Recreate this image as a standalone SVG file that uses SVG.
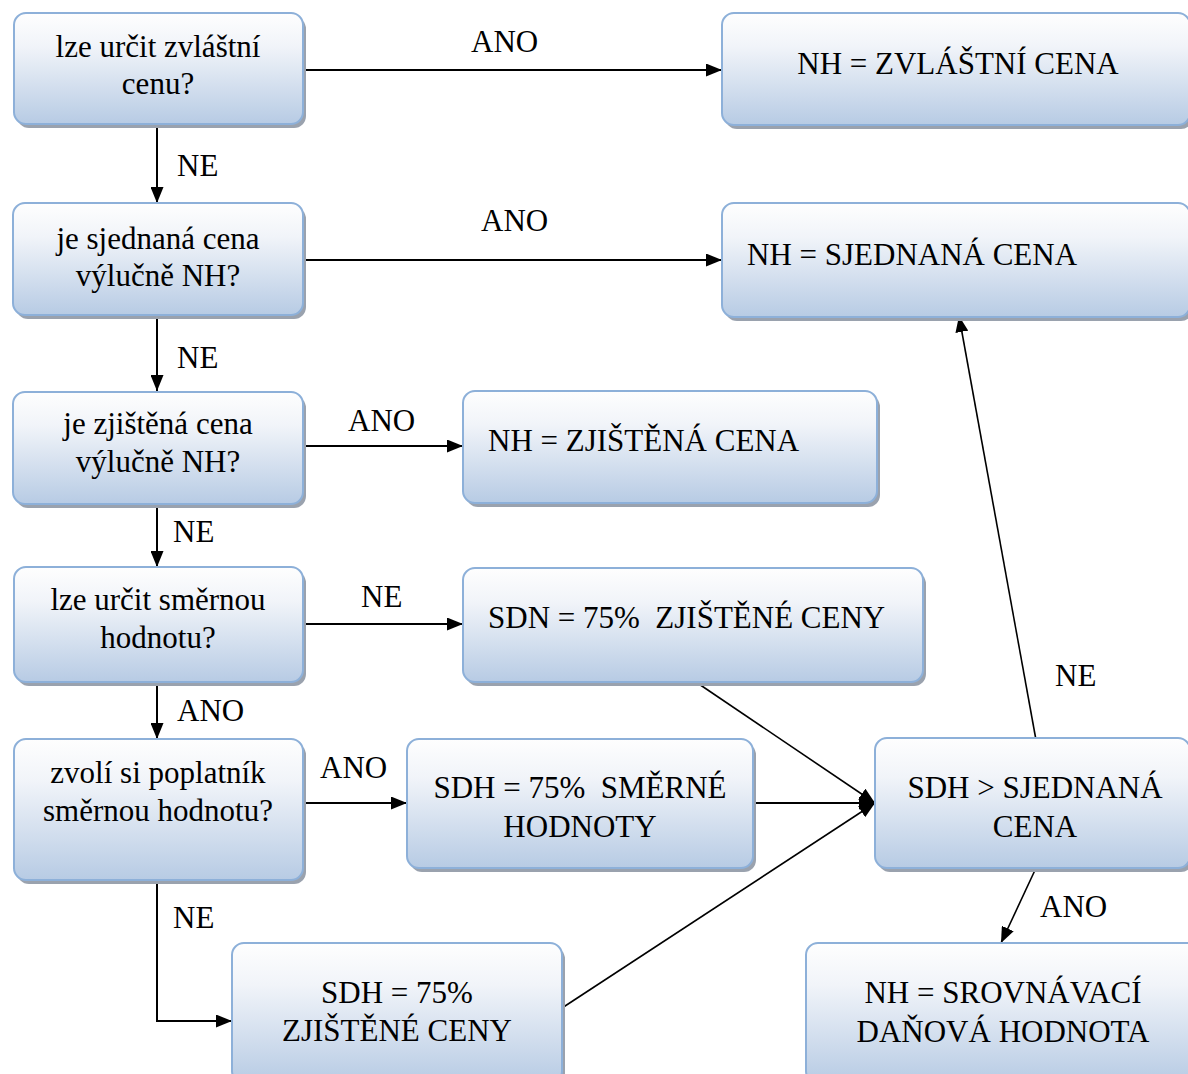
<svg xmlns="http://www.w3.org/2000/svg" width="1188" height="1074" viewBox="0 0 1188 1074" font-family="Liberation Serif, DejaVu Serif, serif">
<style>
.box{fill:url(#g);stroke:#8db0d9;stroke-width:2}
.sh{fill:#9aa2ae}
.t{font-size:31px;fill:#000}
.m{text-anchor:middle}
.c{fill:none;stroke:#000;stroke-width:2}
.d{fill:none;stroke:#000;stroke-width:1.6}
</style>
<defs>
<linearGradient id="g" x1="0" y1="0" x2="0" y2="1">
<stop offset="0" stop-color="#fefefe"/>
<stop offset="0.3" stop-color="#f1f4f9"/>
<stop offset="1" stop-color="#b7cbe4"/>
</linearGradient>
<marker id="a" viewBox="0 0 16 13" refX="16" refY="6.5" markerWidth="16" markerHeight="13" markerUnits="userSpaceOnUse" orient="auto">
<path d="M0,0 L16,6.5 L0,13 z" fill="#000"/>
</marker>
</defs>

<g id="connectors">
<line class="c" x1="303" y1="70" x2="722" y2="70" marker-end="url(#a)"/>
<line class="c" x1="157" y1="126" x2="157" y2="203" marker-end="url(#a)"/>
<line class="c" x1="303" y1="260" x2="722" y2="260" marker-end="url(#a)"/>
<line class="c" x1="157" y1="317" x2="157" y2="391" marker-end="url(#a)"/>
<line class="c" x1="303" y1="446" x2="463" y2="446" marker-end="url(#a)"/>
<line class="c" x1="157" y1="505" x2="157" y2="567" marker-end="url(#a)"/>
<line class="c" x1="303" y1="624" x2="463" y2="624" marker-end="url(#a)"/>
<line class="c" x1="157" y1="683" x2="157" y2="739" marker-end="url(#a)"/>
<line class="c" x1="303" y1="803" x2="407" y2="803" marker-end="url(#a)"/>
<polyline class="c" points="157,880 157,1021 232,1021" marker-end="url(#a)"/>
<line class="d" x1="693" y1="680" x2="875" y2="803" marker-end="url(#a)"/>
<line class="c" x1="753" y1="803" x2="875" y2="803" marker-end="url(#a)"/>
<line class="d" x1="562" y1="1008" x2="875" y2="803" marker-end="url(#a)"/>
<line class="d" x1="1036" y1="740" x2="959" y2="316" marker-end="url(#a)"/>
<line class="d" x1="1036" y1="868" x2="1001" y2="943" marker-end="url(#a)"/>
<text class="t" x="471" y="52">ANO</text>
<text class="t" x="177" y="176">NE</text>
<text class="t" x="481" y="231">ANO</text>
<text class="t" x="177" y="368">NE</text>
<text class="t" x="348" y="431">ANO</text>
<text class="t" x="173" y="542">NE</text>
<text class="t" x="361" y="607">NE</text>
<text class="t" x="177" y="721">ANO</text>
<text class="t" x="320" y="778">ANO</text>
<text class="t" x="173" y="928">NE</text>
<text class="t" x="1055" y="686">NE</text>
<text class="t" x="1040" y="917">ANO</text>
</g>

<g id="q1">
<rect class="sh" x="17" y="17" width="289" height="111" rx="12"/>
<rect class="box" x="14" y="13" width="289" height="111" rx="12"/>
<text class="t m" x="158" y="57">lze určit zvláštní</text>
<text class="t m" x="158" y="94">cenu?</text>
</g>
<g id="r1">
<rect class="sh" x="725" y="17" width="468" height="112" rx="12"/>
<rect class="box" x="722" y="13" width="468" height="112" rx="12"/>
<text class="t m" x="958" y="74">NH = ZVLÁŠTNÍ CENA</text>
</g>
<g id="q2">
<rect class="sh" x="16" y="207" width="290" height="112" rx="12"/>
<rect class="box" x="13" y="203" width="290" height="112" rx="12"/>
<text class="t m" x="158" y="249">je sjednaná cena</text>
<text class="t m" x="158" y="286">výlučně NH?</text>
</g>
<g id="r2">
<rect class="sh" x="725" y="207" width="468" height="114" rx="12"/>
<rect class="box" x="722" y="203" width="468" height="114" rx="12"/>
<text class="t" x="747" y="265">NH = SJEDNANÁ CENA</text>
</g>
<g id="q3">
<rect class="sh" x="16" y="396" width="290" height="112" rx="12"/>
<rect class="box" x="13" y="392" width="290" height="112" rx="12"/>
<text class="t m" x="158" y="434">je zjištěná cena</text>
<text class="t m" x="158" y="472">výlučně NH?</text>
</g>
<g id="r3">
<rect class="sh" x="466" y="395" width="414" height="112" rx="12"/>
<rect class="box" x="463" y="391" width="414" height="112" rx="12"/>
<text class="t" x="488" y="451">NH = ZJIŠTĚNÁ CENA</text>
</g>
<g id="q4">
<rect class="sh" x="17" y="571" width="289" height="115" rx="12"/>
<rect class="box" x="14" y="567" width="289" height="115" rx="12"/>
<text class="t m" x="158" y="610">lze určit směrnou</text>
<text class="t m" x="158" y="648">hodnotu?</text>
</g>
<g id="r4">
<rect class="sh" x="466" y="572" width="460" height="114" rx="12"/>
<rect class="box" x="463" y="568" width="460" height="114" rx="12"/>
<text class="t" x="488" y="628" xml:space="preserve">SDN = 75%  ZJIŠTĚNÉ CENY</text>
</g>
<g id="q5">
<rect class="sh" x="17" y="743" width="289" height="141" rx="12"/>
<rect class="box" x="14" y="739" width="289" height="141" rx="12"/>
<text class="t m" x="158" y="783">zvolí si poplatník</text>
<text class="t m" x="158" y="821">směrnou hodnotu?</text>
</g>
<g id="r5">
<rect class="sh" x="410" y="743" width="346" height="129" rx="12"/>
<rect class="box" x="407" y="739" width="346" height="129" rx="12"/>
<text class="t m" x="580" y="798" xml:space="preserve">SDH = 75%  SMĚRNÉ</text>
<text class="t m" x="580" y="837">HODNOTY</text>
</g>
<g id="c1">
<rect class="sh" x="878" y="742" width="315" height="130" rx="12"/>
<rect class="box" x="875" y="738" width="315" height="130" rx="12"/>
<text class="t m" x="1035" y="798">SDH &gt; SJEDNANÁ</text>
<text class="t m" x="1035" y="837">CENA</text>
</g>
<g id="r6">
<rect class="sh" x="235" y="947" width="330" height="140" rx="12"/>
<rect class="box" x="232" y="943" width="330" height="140" rx="12"/>
<text class="t m" x="397" y="1003">SDH = 75%</text>
<text class="t m" x="397" y="1041">ZJIŠTĚNÉ CENY</text>
</g>
<g id="r7">
<rect class="sh" x="809" y="947" width="394" height="140" rx="12"/>
<rect class="box" x="806" y="943" width="394" height="140" rx="12"/>
<text class="t m" x="1003" y="1003">NH = SROVNÁVACÍ</text>
<text class="t m" x="1003" y="1042">DAŇOVÁ HODNOTA</text>
</g>
</svg>
